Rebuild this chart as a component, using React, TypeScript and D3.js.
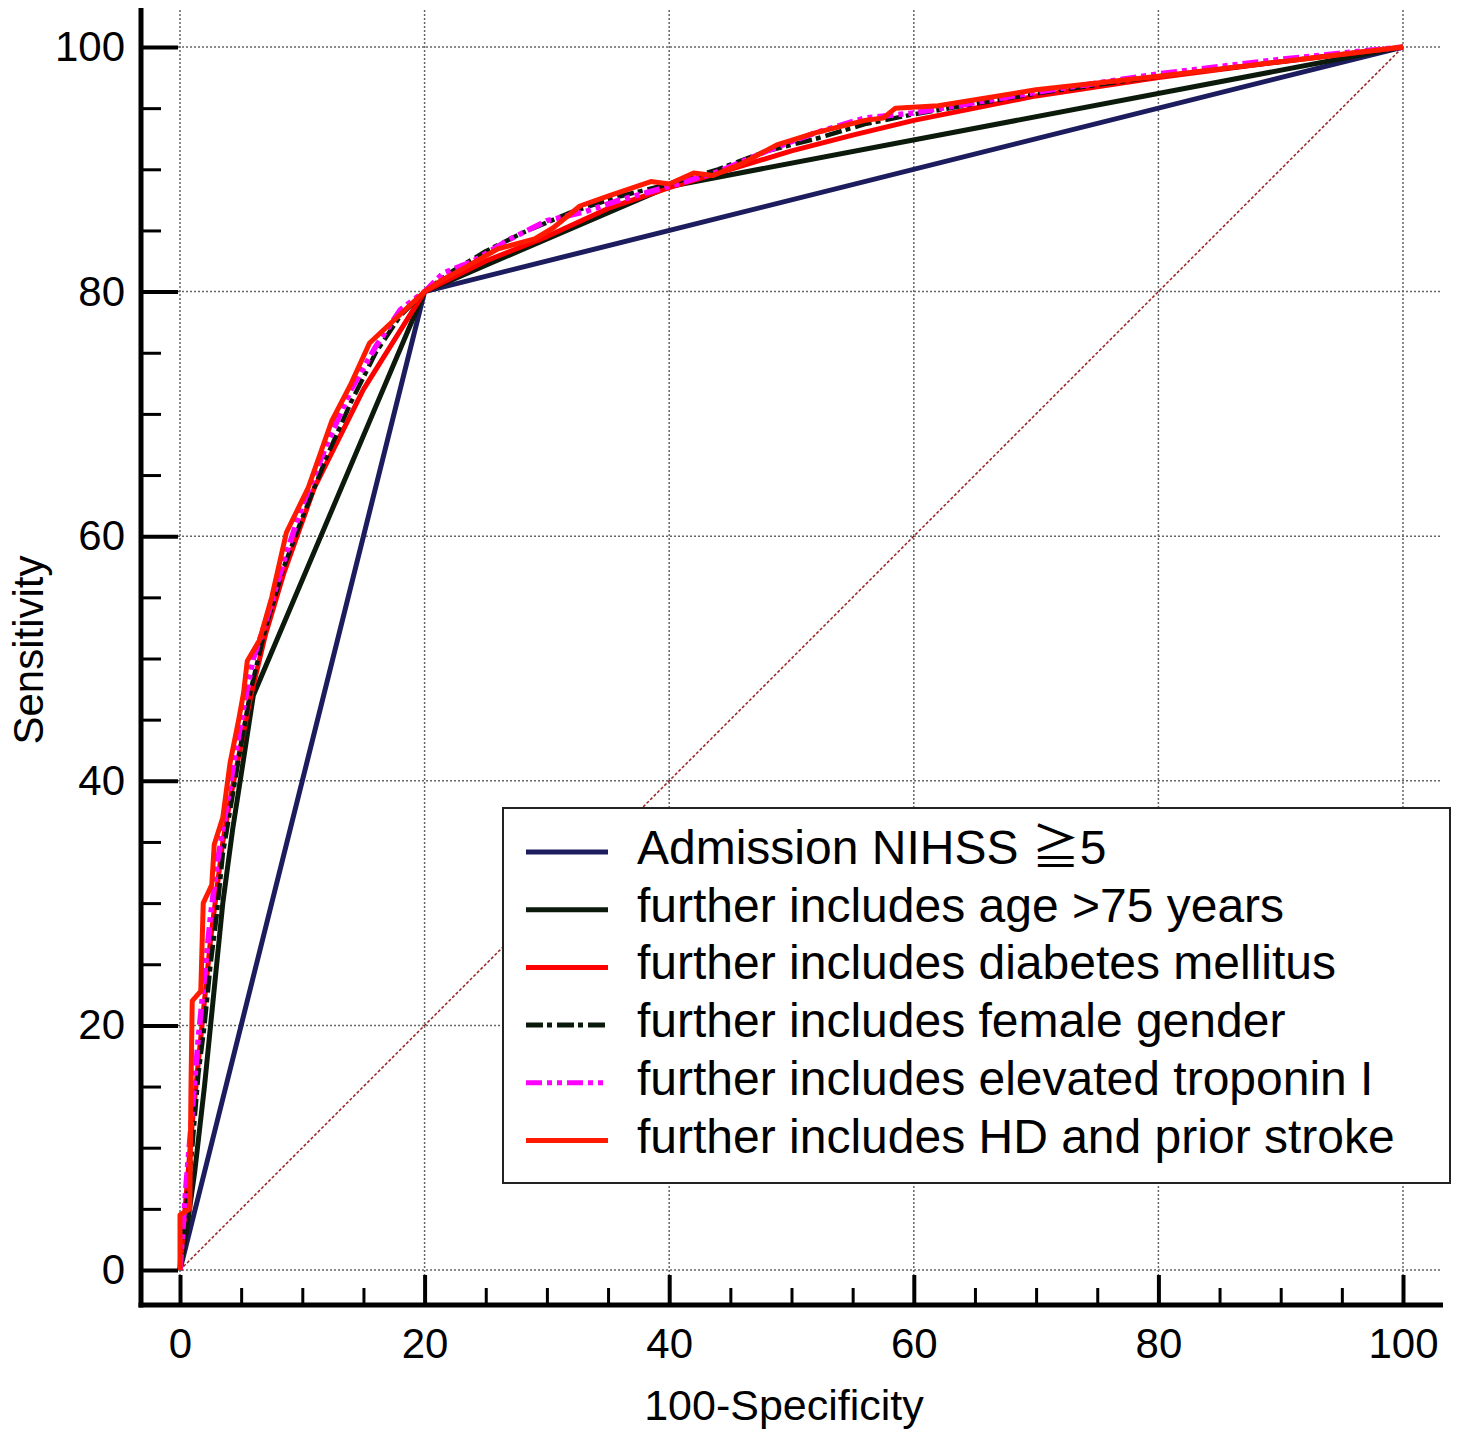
import React, { useEffect, useRef } from 'react';
import * as d3 from 'd3';

// ROC points: [100-Specificity, Sensitivity]
const nihssRoc: [number, number][] = [[0, 0], [20, 80], [100, 100]];

const ageRoc: [number, number][] = [
  [0, 0], [0.5, 3], [1.2, 8], [2, 15], [2.7, 22], [3.5, 30], [4.3, 36], [5, 40.5], [6, 47],
  [20, 80], [40, 88.6], [100, 100],
];

const diabetesRoc: [number, number][] = [
  [0, 0], [0.5, 6], [1, 12], [1.5, 17], [2, 22], [2.5, 27], [3, 31], [3.5, 35], [4.2, 39],
  [5, 43], [5.8, 47], [7, 52], [8.5, 57], [11, 64], [15, 72], [20, 80], [25, 82.5], [30, 84.5],
  [35, 86.8], [40, 88.5], [45, 90], [50, 91.5], [55, 92.8], [60, 94], [70, 96], [80, 97.5],
  [90, 98.8], [100, 100],
];

const femaleRoc: [number, number][] = [
  [0, 0], [0.5, 5], [1, 10], [1.5, 16], [2, 20], [2.5, 25], [3, 29], [3.5, 34], [4, 37],
  [4.5, 40], [5, 43], [5.8, 47.5], [7, 52.5], [8.5, 57.5], [10, 61.5], [12, 66.5], [14, 71],
  [16, 75], [18, 78], [20, 80], [22, 81.5], [25, 83.3], [28, 84.8], [32, 86.5], [36, 87.8],
  [40, 88.8], [44, 90], [48, 91.5], [52, 92.5], [56, 93.7], [60, 94.5], [70, 96.2], [80, 97.6],
  [90, 98.8], [100, 100],
];

const troponinRoc: [number, number][] = [
  [0, 0], [0.5, 7], [1, 13], [1.5, 19], [2, 24], [2.5, 29], [3, 33], [3.5, 36], [4, 39],
  [4.5, 42], [5.2, 46], [6, 50], [7, 53], [8.5, 58], [10, 62.5], [12, 67.5], [14, 72],
  [16, 75.5], [18, 78.5], [20, 80], [21.5, 81.5], [24, 82.5], [27, 84.3], [30, 85.8], [33, 86.5],
  [36, 87.5], [40, 88.6], [44, 89.8], [48, 91.5], [52, 93], [56, 94.2], [60, 94.6], [70, 96.3],
  [80, 97.8], [90, 99], [100, 100],
];

const hdStrokeRoc: [number, number][] = [
  [0, 0], [0, 4.5], [0.8, 5], [0.9, 15], [1, 22], [1.7, 22.8], [1.9, 30], [2.6, 31.5],
  [2.8, 34.8], [3.5, 37], [4.1, 41.5], [4.8, 45], [5.2, 47.2], [5.5, 49.8], [6.5, 51.5],
  [7.5, 55], [8.7, 60.3], [10.5, 64], [12.4, 69.4], [14, 72.5], [15.5, 75.8], [20, 80],
  [21.5, 81], [23, 81.8], [26, 83.5], [29, 84.3], [30.5, 85.2], [32.7, 87], [35, 87.8],
  [38.5, 89], [40, 88.8], [42, 89.7], [43.6, 89.5], [46, 90.5], [48.8, 92], [52, 93], [56, 94],
  [57.5, 94.2], [58.5, 95], [62, 95.2], [70, 96.5], [80, 97.6], [90, 98.8], [100, 100],
];

const chanceLine: [number, number][] = [[0, 0], [100, 100]];

const seriesNames = [
  'Admission NIHSS \u22675',
  'further includes age >75 years',
  'further includes diabetes mellitus',
  'further includes female gender',
  'further includes elevated troponin I',
  'further includes HD and prior stroke',
];

const majorTicks = [0, 20, 40, 60, 80, 100];
const minorTicks = [5, 10, 15, 25, 30, 35, 45, 50, 55, 65, 70, 75, 85, 90, 95];

const FONT = '"Liberation Sans", Arial, "Noto Sans CJK JP", sans-serif';

export default function App() {
  const ref = useRef<SVGSVGElement>(null);

  useEffect(() => {
    const svg = d3.select(ref.current);
    svg.selectAll('*').remove();

    const x = d3.scaleLinear().domain([0, 100]).range([180, 1403]);
    const y = d3.scaleLinear().domain([0, 100]).range([1270, 47]);

    const series = [
      { name: seriesNames[0], data: nihssRoc, color: '#1c1c5e', width: 5, dash: null },
      { name: seriesNames[1], data: ageRoc, color: '#0c1a0c', width: 5, dash: null },
      { name: seriesNames[2], data: diabetesRoc, color: '#ff0000', width: 5, dash: null },
      { name: seriesNames[3], data: femaleRoc, color: '#0a1a0a', width: 4.5, dash: '17,4,5,5' },
      { name: seriesNames[4], data: troponinRoc, color: '#ff00ff', width: 5.5, dash: '16,5,5,5,5,5' },
      { name: seriesNames[5], data: hdStrokeRoc, color: '#ff1a00', width: 5, dash: null },
    ];

    // dotted grid
    const grid = svg.append('g')
      .attr('stroke', '#666')
      .attr('stroke-width', 1.5)
      .attr('stroke-dasharray', '2,2');
    grid.append('g').selectAll('line')
      .data(majorTicks)
      .join('line')
        .attr('x1', d => x(d)).attr('x2', d => x(d))
        .attr('y1', 10).attr('y2', 1275);
    grid.append('g').selectAll('line')
      .data(majorTicks)
      .join('line')
        .attr('x1', 178).attr('x2', 1440)
        .attr('y1', d => y(d)).attr('y2', d => y(d));

    const line = d3.line<[number, number]>()
      .x(d => x(d[0]))
      .y(d => y(d[1]));

    // diagonal reference
    svg.append('path')
      .attr('d', line(chanceLine))
      .attr('fill', 'none')
      .attr('stroke', '#9b2020')
      .attr('stroke-width', 1.5)
      .attr('stroke-dasharray', '3,2');

    svg.append('g').selectAll('path')
      .data(series)
      .join('path')
        .attr('d', d => line(d.data))
        .attr('fill', 'none')
        .attr('stroke', d => d.color)
        .attr('stroke-width', d => d.width)
        .attr('stroke-linejoin', 'round')
        .attr('stroke-dasharray', d => d.dash);

    // axes: major ticks with labels, minor ticks without
    function styleAxis(g: any, w: number) {
      g.select('.domain').remove();
      g.selectAll('line').attr('stroke', '#000').attr('stroke-width', w);
      g.attr('font-family', FONT).attr('font-size', 42);
      g.selectAll('text').attr('fill', '#000');
    }

    svg.append('g')
      .attr('transform', 'translate(141,0)')
      .call(d3.axisLeft(y).tickValues(majorTicks).tickSize(-37).tickPadding(16))
      .call(g => styleAxis(g, 4));
    svg.append('g')
      .attr('transform', 'translate(141,0)')
      .call(d3.axisLeft(y).tickValues(minorTicks).tickSize(-20).tickFormat(() => ''))
      .call(g => styleAxis(g, 3));

    svg.append('g')
      .attr('transform', 'translate(0,1305)')
      .call(d3.axisBottom(x).tickValues(majorTicks).tickSize(-30).tickPadding(23))
      .call(g => styleAxis(g, 4));
    svg.append('g')
      .attr('transform', 'translate(0,1305)')
      .call(d3.axisBottom(x).tickValues(minorTicks).tickSize(-17).tickFormat(() => ''))
      .call(g => styleAxis(g, 3));

    // axis lines
    svg.append('line')
      .attr('x1', 141).attr('x2', 141).attr('y1', 8).attr('y2', 1307.5)
      .attr('stroke', '#000').attr('stroke-width', 5);
    svg.append('line')
      .attr('x1', 138.5).attr('x2', 1443).attr('y1', 1305).attr('y2', 1305)
      .attr('stroke', '#000').attr('stroke-width', 5);

    // axis titles
    svg.append('text')
      .attr('x', 784).attr('y', 1420)
      .attr('text-anchor', 'middle')
      .attr('font-family', FONT).attr('font-size', 43)
      .text('100-Specificity');
    svg.append('text')
      .attr('transform', 'translate(43,650) rotate(-90)')
      .attr('text-anchor', 'middle')
      .attr('font-family', FONT).attr('font-size', 42)
      .text('Sensitivity');

    // legend
    const legend = svg.append('g');
    legend.append('rect')
      .attr('x', 503).attr('y', 808).attr('width', 947).attr('height', 375)
      .attr('fill', '#fff').attr('stroke', '#222').attr('stroke-width', 2);
    const rows = legend.selectAll('g.row')
      .data(series)
      .join('g')
        .attr('class', 'row')
        .attr('transform', (d, i) => `translate(0,${852 + i * 57.7})`);
    rows.append('line')
      .attr('x1', 526).attr('x2', 608).attr('y1', 0).attr('y2', 0)
      .attr('stroke', d => d.color)
      .attr('stroke-width', 5)
      .attr('stroke-dasharray', d => d.dash);
    rows.append('text')
      .attr('x', 637).attr('y', 12)
      .attr('font-family', FONT).attr('font-size', 48)
      .attr('fill', '#000')
      .text(d => d.name);
  }, []);

  return (
    <svg
      ref={ref}
      width={1461}
      height={1431}
      style={{ position: 'absolute', left: 0, top: 0, background: '#fff', display: 'block' }}
    />
  );
}
